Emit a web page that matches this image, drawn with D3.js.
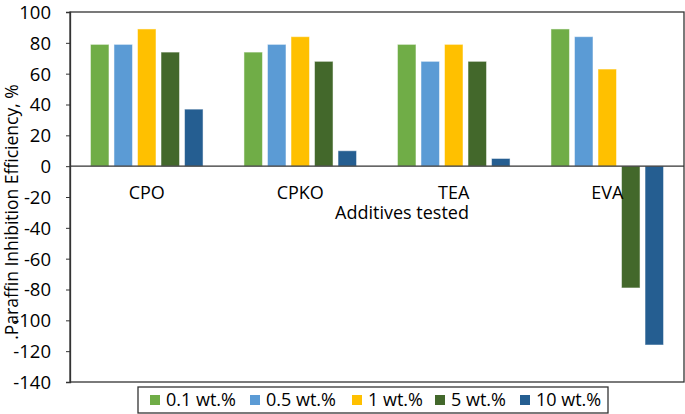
<!DOCTYPE html>
<html><head><meta charset="utf-8">
<script src="https://cdn.jsdelivr.net/npm/d3@7"></script>
<style>body{margin:0;background:#fff}svg{display:block}text{font-family:"Open Sans",sans-serif;fill:#000}</style>
</head><body><svg id="c" width="685" height="414"></svg>
<script>
const categories = ["CPO","CPKO","TEA","EVA"];
const seriesNames = ["0.1 wt.%","0.5 wt.%","1 wt.%","5 wt.%","10 wt.%"];
const s01 = [79, 74, 79, 89];
const s05 = [79, 79, 68, 84];
const s1  = [89, 84, 79, 63];
const s5  = [74, 68, 68, -79];
const s10 = [37, 10, 5, -116];
const yTicks = [100,80,60,40,20,0,-20,-40,-60,-80,-100,-120,-140];
const colors = ["#70AD47","#5B9BD5","#FFC000","#43682B","#255E91"];
const series = [s01,s05,s1,s5,s10];

const svg = d3.select("#c");
const L=70, R=684, T=12, B=382;
const y = d3.scaleLinear().domain([-140,100]).range([B,T]);
const x0 = d3.scaleBand().domain(categories).range([L,R]).paddingInner(0.234).paddingOuter(0.117);
const x1 = d3.scaleBand().domain(d3.range(5)).range([0,x0.bandwidth()]).paddingInner(0.213).paddingOuter(0.1065);

categories.forEach((c,ci)=>{
  series.forEach((s,si)=>{
    const v=s[ci];
    svg.append("rect")
      .attr("x", x0(c)+x1(si)).attr("width", x1.bandwidth())
      .attr("y", y(Math.max(0,v))).attr("height", Math.abs(y(v)-y(0)))
      .attr("fill", colors[si]).attr("stroke","#fff").attr("stroke-opacity",0.5).attr("stroke-width",1);
  });
});

svg.append("rect").attr("x",L).attr("y",T).attr("width",R-L).attr("height",B-T)
  .attr("fill","none").attr("stroke","#333").attr("stroke-width",1.3);
svg.append("line").attr("x1",L).attr("x2",R).attr("y1",y(0)).attr("y2",y(0)).attr("stroke","#333").attr("stroke-width",1.3);

const ya = svg.append("g").attr("transform",`translate(${L},0)`)
  .call(d3.axisLeft(y).tickValues(yTicks).tickSize(4).tickPadding(15).tickFormat(d=>String(d)));
ya.select(".domain").attr("stroke","#333").attr("stroke-width",1.3);
ya.selectAll(".tick line").attr("stroke","#333");
ya.selectAll("text").style("font-size","18.5px").style("font-family","'Open Sans',sans-serif").attr("fill","#000").attr("dy","0.35em");

svg.selectAll(".cat").data(categories).enter().append("text")
  .attr("x",d=>x0(d)+x0.bandwidth()/2).attr("y",y(0)+33)
  .attr("text-anchor","middle").style("font-size","18px").text(d=>d);

svg.append("text").attr("x",402).attr("y",219).attr("text-anchor","middle").style("font-size","18px").text("Additives tested");
svg.append("text").attr("transform","translate(18,212) rotate(-90)").attr("text-anchor","middle")
  .style("font-size","17.5px").text(".Paraffin  Inhibition Efficiency, %");

const lg = svg.append("g");
lg.append("rect").attr("x",138).attr("y",387).attr("width",470).attr("height",26).attr("fill","#fff").attr("stroke","#333").attr("stroke-width",1.3);
const lx=[150,250,352,435,520];
seriesNames.forEach((n,i)=>{
  lg.append("rect").attr("x",lx[i]).attr("y",395).attr("width",10).attr("height",10).attr("fill",colors[i]);
  lg.append("text").attr("x",lx[i]+16).attr("y",406).style("font-size","18px").text(n);
});
</script></body></html>
